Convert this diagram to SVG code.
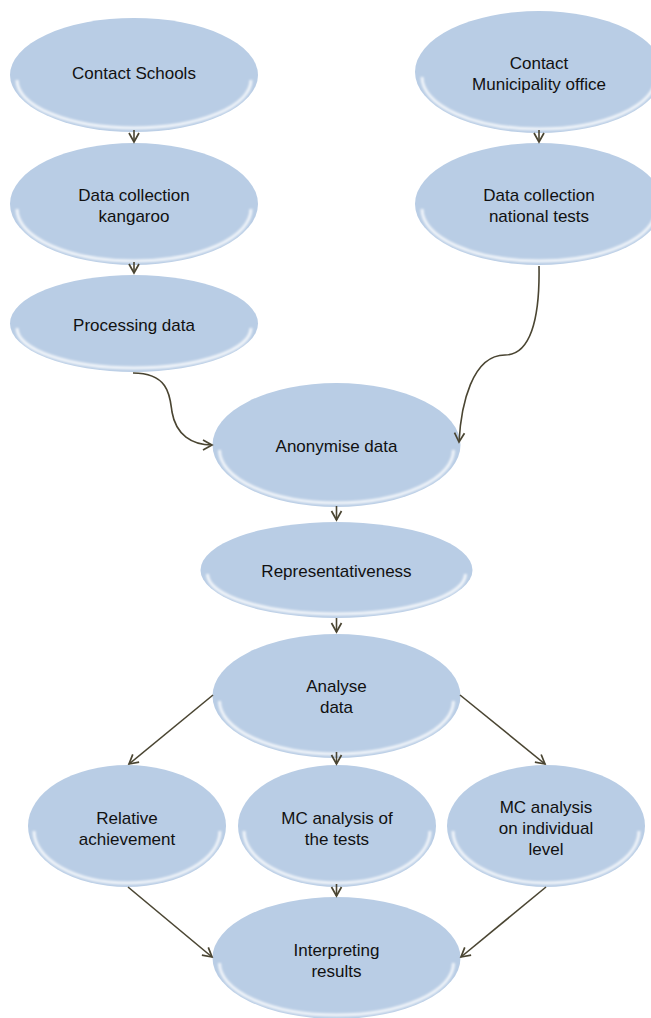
<svg xmlns="http://www.w3.org/2000/svg" width="651" height="1018" viewBox="0 0 651 1018">
<defs>
<style>
.n{fill:#b9cde5;}
.h{fill:none;stroke:#ffffff;stroke-opacity:0.8;stroke-width:3;filter:url(#bl);}
.t{font-family:"Liberation Sans",Arial,sans-serif;font-size:17px;fill:#111;text-anchor:middle;}
.c{fill:none;stroke:#4a4532;stroke-width:1.6;marker-end:url(#ar);}
</style>
<filter id="bl" filterUnits="userSpaceOnUse" x="0" y="0" width="700" height="1018"><feGaussianBlur stdDeviation="1.3"/></filter>
<marker id="ar" markerUnits="userSpaceOnUse" markerWidth="14" markerHeight="14" viewBox="0 0 14 14" refX="11" refY="7" orient="auto">
<path d="M2,2 L11,7 L2,12" fill="none" stroke="#4a4532" stroke-width="1.7"/>
</marker>
</defs>
<g id="contact-schools">
<ellipse class="n" cx="134" cy="75" rx="124" ry="57"/>
<path class="h" d="M17,80 A117,48 0 0 0 251,80"/>
<text class="t" x="134" y="79">Contact Schools</text>
</g>
<g id="data-collection-kangaroo">
<ellipse class="n" cx="134" cy="204" rx="124" ry="61"/>
<path class="h" d="M17,209 A117,52 0 0 0 251,209"/>
<text class="t" x="134" y="201">Data collection</text>
<text class="t" x="134" y="222">kangaroo</text>
</g>
<g id="processing-data">
<ellipse class="n" cx="134" cy="323.5" rx="124" ry="48.5"/>
<path class="h" d="M17,328 A117,40 0 0 0 251,328"/>
<text class="t" x="134" y="331">Processing data</text>
</g>
<g id="contact-municipality">
<ellipse class="n" cx="539" cy="72" rx="124" ry="61"/>
<path class="h" d="M422,77 A117,52 0 0 0 656,77"/>
<text class="t" x="539" y="69">Contact</text>
<text class="t" x="539" y="90">Municipality office</text>
</g>
<g id="data-collection-national">
<ellipse class="n" cx="539" cy="204" rx="124" ry="61"/>
<path class="h" d="M422,209 A117,52 0 0 0 656,209"/>
<text class="t" x="539" y="201">Data collection</text>
<text class="t" x="539" y="222">national tests</text>
</g>
<g id="anonymise-data">
<ellipse class="n" cx="336.5" cy="445" rx="124" ry="62"/>
<path class="h" d="M219.5,450 A117,53 0 0 0 453.5,450"/>
<text class="t" x="336.5" y="452">Anonymise data</text>
</g>
<g id="representativeness">
<ellipse class="n" cx="336.5" cy="570" rx="136" ry="48"/>
<path class="h" d="M207.5,574 A129,40 0 0 0 465.5,574"/>
<text class="t" x="336.5" y="577">Representativeness</text>
</g>
<g id="analyse-data">
<ellipse class="n" cx="336.5" cy="696" rx="124" ry="62"/>
<path class="h" d="M219.5,701 A117,53 0 0 0 453.5,701"/>
<text class="t" x="336.5" y="692">Analyse</text>
<text class="t" x="336.5" y="713">data</text>
</g>
<g id="relative-achievement">
<ellipse class="n" cx="127" cy="826" rx="99" ry="61"/>
<path class="h" d="M34,831 A93,52 0 0 0 220,831"/>
<text class="t" x="127" y="824">Relative</text>
<text class="t" x="127" y="845">achievement</text>
</g>
<g id="mc-analysis-tests">
<ellipse class="n" cx="337" cy="826" rx="99" ry="61"/>
<path class="h" d="M244,831 A93,52 0 0 0 430,831"/>
<text class="t" x="337" y="824">MC analysis of</text>
<text class="t" x="337" y="845">the tests</text>
</g>
<g id="mc-analysis-individual">
<ellipse class="n" cx="546" cy="826" rx="99" ry="61"/>
<path class="h" d="M453,831 A93,52 0 0 0 639,831"/>
<text class="t" x="546" y="813">MC analysis</text>
<text class="t" x="546" y="834">on individual</text>
<text class="t" x="546" y="855">level</text>
</g>
<g id="interpreting-results">
<ellipse class="n" cx="336.5" cy="958" rx="124" ry="61"/>
<path class="h" d="M219.5,963 A117,52 0 0 0 453.5,963"/>
<text class="t" x="336.5" y="956">Interpreting</text>
<text class="t" x="336.5" y="977">results</text>
</g>
<g id="connectors">
<path class="c" d="M134,130 L134,142"/>
<path class="c" d="M134,262 L134,273"/>
<path class="c" d="M539,130 L539,142"/>
<path class="c" d="M133,373 C170,373 170,398 172,412 C176,435 192,445 212,445"/>
<path class="c" d="M539,266 C540,320 530,355 505,355 C472,355 461,405 459,442"/>
<path class="c" d="M336.5,506 L336.5,520"/>
<path class="c" d="M336.5,618 L336.5,632"/>
<path class="c" d="M213,695 L129,764"/>
<path class="c" d="M336.5,752 L336.5,764"/>
<path class="c" d="M460,695 L545,764"/>
<path class="c" d="M128,887 L212,957"/>
<path class="c" d="M336.5,884 L336.5,896"/>
<path class="c" d="M546,887 L461,957"/>
</g>
</svg>
